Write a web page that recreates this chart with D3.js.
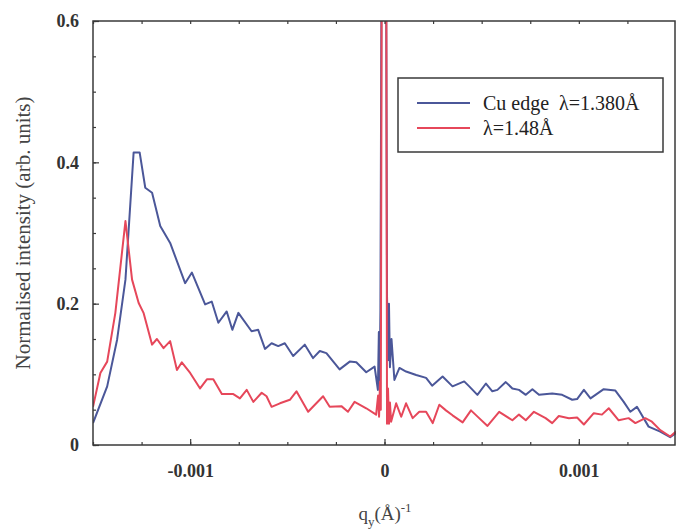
<!DOCTYPE html>
<html>
<head>
<meta charset="utf-8">
<script src="https://cdn.jsdelivr.net/npm/d3@7"></script>
<style>
  html, body { margin: 0; padding: 0; background: #ffffff; }
  svg { display: block; }
</style>
</head>
<body>
<svg id="chart" width="676" height="531"></svg>
<script>
// ---- data (q in units of 1e-3 Å^-1) ----
const blueQ = [-1.500,-1.427,-1.376,-1.333,-1.291,-1.260,-1.231,-1.196,-1.154,-1.103,-1.026,-0.991,-0.923,-0.889,-0.855,-0.812,-0.783,-0.752,-0.684,-0.650,-0.615,-0.581,-0.547,-0.513,-0.470,-0.410,-0.368,-0.333,-0.299,-0.231,-0.179,-0.145,-0.094,-0.051,-0.034,-0.029,-0.025,-0.021,-0.015,0.008,0.013,0.018,0.023,0.028,0.036,0.051,0.077,0.111,0.163,0.214,0.245,0.299,0.350,0.410,0.436,0.478,0.522,0.555,0.581,0.624,0.658,0.692,0.727,0.761,0.795,0.863,0.914,0.966,0.991,1.026,1.060,1.128,1.188,1.231,1.265,1.299,1.359,1.419,1.470,1.500];
const blueI = [0.031,0.083,0.149,0.234,0.414,0.414,0.364,0.357,0.310,0.286,0.229,0.244,0.199,0.203,0.173,0.189,0.163,0.187,0.161,0.163,0.136,0.144,0.140,0.144,0.126,0.142,0.123,0.133,0.130,0.107,0.118,0.117,0.103,0.111,0.078,0.160,0.090,0.190,0.70,0.70,0.210,0.120,0.200,0.110,0.150,0.092,0.109,0.104,0.099,0.095,0.084,0.097,0.083,0.090,0.083,0.071,0.087,0.076,0.078,0.089,0.080,0.078,0.071,0.079,0.071,0.073,0.071,0.064,0.065,0.078,0.066,0.079,0.077,0.061,0.047,0.054,0.026,0.019,0.011,0.017];

const redQ = [-1.500,-1.462,-1.427,-1.385,-1.333,-1.299,-1.265,-1.240,-1.196,-1.171,-1.137,-1.103,-1.068,-1.043,-1.000,-0.949,-0.914,-0.881,-0.837,-0.778,-0.744,-0.709,-0.675,-0.632,-0.607,-0.581,-0.538,-0.487,-0.453,-0.393,-0.316,-0.282,-0.222,-0.188,-0.154,-0.094,-0.043,-0.033,-0.028,-0.023,-0.019,-0.014,0.009,0.013,0.018,0.023,0.028,0.034,0.060,0.086,0.111,0.145,0.179,0.214,0.248,0.282,0.316,0.350,0.402,0.445,0.487,0.530,0.590,0.658,0.692,0.727,0.769,0.829,0.863,0.897,0.949,0.991,1.026,1.077,1.119,1.154,1.205,1.256,1.291,1.342,1.376,1.419,1.470,1.500];
const redI = [0.054,0.102,0.118,0.187,0.317,0.234,0.201,0.187,0.142,0.150,0.137,0.147,0.106,0.117,0.102,0.080,0.093,0.093,0.072,0.072,0.066,0.078,0.061,0.074,0.069,0.054,0.059,0.064,0.076,0.047,0.069,0.054,0.055,0.047,0.061,0.052,0.043,0.070,0.040,0.090,0.050,0.70,0.70,0.030,0.080,0.030,0.060,0.033,0.059,0.040,0.059,0.038,0.047,0.047,0.031,0.057,0.049,0.042,0.032,0.049,0.038,0.027,0.047,0.035,0.043,0.035,0.047,0.038,0.031,0.041,0.038,0.039,0.029,0.045,0.043,0.052,0.035,0.038,0.031,0.038,0.033,0.021,0.012,0.019];

const xTickValues = [-0.001, 0, 0.001];
const xTickLabels = ["-0.001", "0", "0.001"];
const yTickValues = [0, 0.2, 0.4, 0.6];
const yTickLabels = ["0", "0.2", "0.4", "0.6"];
const seriesNames = ["Cu edge  \u03bb=1.380\u00c5", "\u03bb=1.48\u00c5"];
const seriesColors = ["#4b5799", "#e6475a"];

// ---- layout ----
const svg = d3.select("#chart");
const L = 93, R = 676, T = 21, B = 445;
const x = d3.scaleLinear().domain([-0.0015, 0.0015]).range([L, R]);
const y = d3.scaleLinear().domain([0, 0.6]).range([B, T]);

svg.append("defs").append("clipPath").attr("id", "clip")
  .append("rect").attr("x", L).attr("y", T).attr("width", R - L).attr("height", B - T);

const series = [
  { name: seriesNames[0], color: seriesColors[0], pts: blueQ.map((q, i) => [q * 1e-3, blueI[i]]) },
  { name: seriesNames[1], color: seriesColors[1], pts: redQ.map((q, i) => [q * 1e-3, redI[i]]) }
];

const line = d3.line().x(d => x(d[0])).y(d => y(d[1]));
const g = svg.append("g").attr("clip-path", "url(#clip)");
series.forEach(s => {
  g.append("path").attr("d", line(s.pts)).attr("fill", "none")
    .attr("stroke", s.color).attr("stroke-width", 2).attr("stroke-linejoin", "round");
});

// ---- axes ----
const frameColor = "#3a3a3a";
const fontFam = "'Liberation Serif', 'DejaVu Serif', serif";
const xMinor = d3.range(-0.0015, 0.00151, 0.00025);
const yMinor = d3.range(0, 0.601, 0.05);

function styleAxis(sel) {
  sel.select(".domain").remove();
  sel.selectAll("line").attr("stroke", frameColor).attr("stroke-width", 1.2);
  sel.selectAll("text").attr("font-family", fontFam).attr("font-size", 18)
    .attr("font-weight", "bold").attr("fill", "#333");
}

svg.append("g").attr("transform", `translate(0,${B})`)
  .call(d3.axisBottom(x).tickValues(xMinor).tickSize(-3).tickFormat(""))
  .call(styleAxis);
svg.append("g").attr("transform", `translate(0,${B})`)
  .call(d3.axisBottom(x).tickValues(xTickValues).tickSize(-6).tickPadding(19)
    .tickFormat((d, i) => xTickLabels[i]))
  .call(styleAxis);
svg.append("g").attr("transform", `translate(0,${T})`)
  .call(d3.axisTop(x).tickValues(xMinor).tickSize(-3).tickFormat(""))
  .call(styleAxis);
svg.append("g").attr("transform", `translate(${L},0)`)
  .call(d3.axisLeft(y).tickValues(yMinor).tickSize(-3).tickFormat(""))
  .call(styleAxis);
svg.append("g").attr("transform", `translate(${L},0)`)
  .call(d3.axisLeft(y).tickValues(yTickValues).tickSize(-6).tickPadding(14)
    .tickFormat((d, i) => yTickLabels[i]))
  .call(styleAxis);

// frame
svg.append("rect").attr("x", L).attr("y", T).attr("width", R - L - 1).attr("height", B - T)
  .attr("fill", "none").attr("stroke", frameColor).attr("stroke-width", 1.5);

// axis titles
svg.append("text")
  .attr("transform", `translate(23,233) rotate(-90)`)
  .attr("text-anchor", "middle").attr("dominant-baseline", "central")
  .attr("font-family", fontFam).attr("font-size", 21).attr("fill", "#444")
  .text("Normalised intensity (arb. units)");

const xl = svg.append("text").attr("x", 385).attr("y", 520).attr("text-anchor", "middle")
  .attr("font-family", fontFam).attr("font-size", 19).attr("fill", "#444");
xl.append("tspan").text("q");
xl.append("tspan").attr("font-size", 13).attr("dy", 6).text("y");
xl.append("tspan").attr("dy", -6).text("(\u00c5)");
xl.append("tspan").attr("font-size", 13).attr("dy", -8).text("-1");

// legend
const lg = svg.append("g");
lg.append("rect").attr("x", 398).attr("y", 78).attr("width", 265).attr("height", 74)
  .attr("fill", "#fff").attr("stroke", frameColor).attr("stroke-width", 1.5);
series.forEach((s, i) => {
  const yy = 103 + i * 25;
  lg.append("line").attr("x1", 417).attr("x2", 470).attr("y1", yy).attr("y2", yy)
    .attr("stroke", s.color).attr("stroke-width", 1.8);
  lg.append("text").attr("x", 483).attr("y", yy).attr("dominant-baseline", "central")
    .attr("xml:space", "preserve").style("white-space", "pre")
    .attr("font-family", fontFam).attr("font-size", 20).attr("fill", "#222").text(s.name);
});
</script>
</body>
</html>
